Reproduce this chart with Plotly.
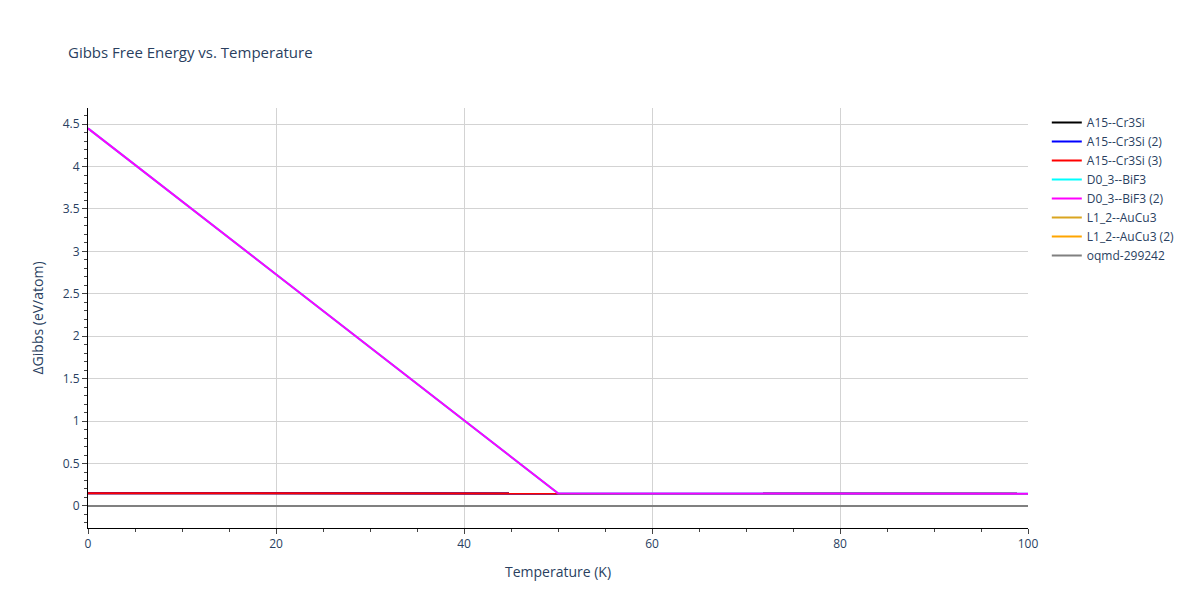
import plotly.graph_objects as go

temps = [0, 10, 20, 30, 40, 50, 60, 70, 80, 90, 100]
a15 = [0.150, 0.149, 0.149, 0.148, 0.148, 0.147, 0.147, 0.146, 0.146, 0.145, 0.145]
d03 = [4.45, 3.59, 2.73, 1.87, 1.01, 0.15, 0.147, 0.146, 0.146, 0.145, 0.145]
l12 = [0.0] * 11
ref = [0.0] * 11

series = [
    ("A15--Cr3Si", a15, "black"),
    ("A15--Cr3Si (2)", a15, "blue"),
    ("A15--Cr3Si (3)", a15, "red"),
    ("D0_3--BiF3", d03, "cyan"),
    ("D0_3--BiF3 (2)", d03, "magenta"),
    ("L1_2--AuCu3", l12, "goldenrod"),
    ("L1_2--AuCu3 (2)", l12, "orange"),
    ("oqmd-299242", ref, "gray"),
]

fig = go.Figure()
for name, ys, color in series:
    fig.add_trace(go.Scatter(x=temps, y=ys, mode="lines", name=name,
                             line=dict(color=color, width=2)))

axis = dict(showgrid=True, gridcolor="lightgray", zeroline=False,
            showline=True, linecolor="black", ticks="outside",
            minor=dict(ticks="outside", ticklen=3, showgrid=False))
fig.update_layout(
    title="Gibbs Free Energy vs. Temperature",
    title_font_size=15,
    plot_bgcolor="white", paper_bgcolor="white",
    width=1200, height=600,
    margin=dict(l=80, r=180, t=100, b=80),
    xaxis=dict(title="Temperature (K)", range=[0, 100], **axis),
    yaxis=dict(title="ΔGibbs (eV/atom)", range=[-0.26, 4.69], dtick=0.5, **axis),
    legend=dict(x=1.02, y=1, font=dict(size=12)),
)
fig.write_html("out.html")
